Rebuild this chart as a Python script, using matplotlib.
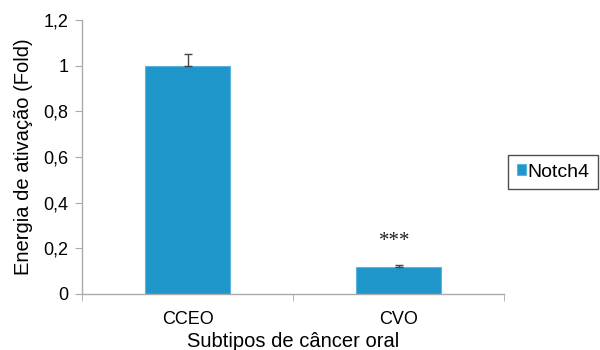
import matplotlib
matplotlib.use("Agg")
import matplotlib.pyplot as plt

categories = ["CCEO", "CVO"]
values = [1.0, 0.12]
errors = [0.05, 0.007]
series_name = "Notch4"
yticks = [0, 0.2, 0.4, 0.6, 0.8, 1.0, 1.2]
ytick_labels = ["0", "0,2", "0,4", "0,6", "0,8", "1", "1,2"]

plt.rcParams['font.family'] = ['Liberation Sans', 'DejaVu Sans']

fig = plt.figure(figsize=(6, 3.5), dpi=100)
ax = fig.add_axes([0.137, 0.16, 0.703, 0.783])

x = list(range(len(categories)))
ax.bar(x, values, width=0.4, color="#1f96c9", edgecolor="#5ab4dc", linewidth=0.8,
       label=series_name, zorder=2)
ax.errorbar(x, values, yerr=[[0, 0], errors], fmt="none", ecolor="#444444",
            elinewidth=1, capsize=3, capthick=1, zorder=3)

ax.text(x[1] - 0.02, values[1] + 0.11, "***", ha="center", va="center",
        fontsize=15, family=["Liberation Serif"], color="#222222")

ax.set_xlim(-0.5, 1.5)
ax.set_ylim(0, 1.2)
ax.set_yticks(yticks)
ax.set_yticklabels(ytick_labels)
ax.set_xticks(x)
ax.set_xticklabels(categories)
ax.set_xticks([-0.5, 0.5, 1.5], minor=True)
ax.tick_params(axis="x", which="major", length=0, pad=12, labelsize=13)
ax.tick_params(axis="x", which="minor", length=5, color="#aaaaaa", direction="out")
ax.tick_params(axis="y", length=5, color="#aaaaaa", labelsize=13, pad=5)

for s in ["top", "right"]:
    ax.spines[s].set_visible(False)
for s in ["left", "bottom"]:
    ax.spines[s].set_color("#aaaaaa")
    ax.spines[s].set_linewidth(1)

ax.set_ylabel("Energia de ativação (Fold)", fontsize=14.5, labelpad=7)
ax.set_xlabel("Subtipos de câncer oral", fontsize=14.5, labelpad=3)

leg = ax.legend(loc="center left", bbox_to_anchor=(1.0, 0.445), frameon=True,
                fancybox=False, edgecolor="#222222", fontsize=14,
                handlelength=0.5, handleheight=0.5, handletextpad=0.05,
                borderpad=0.45, borderaxespad=0.2)
leg.get_frame().set_linewidth(1)

fig.savefig("out.png", dpi=100)
